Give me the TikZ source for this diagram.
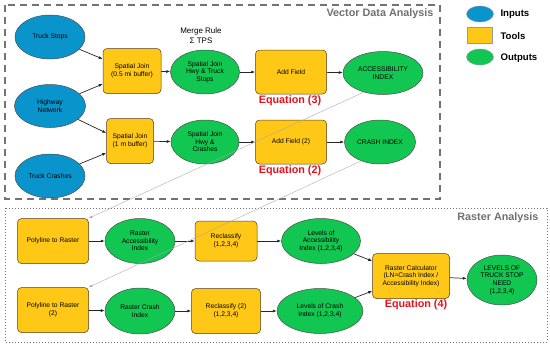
\documentclass[tikz,border=0pt]{standalone}
\usepackage{fontspec}
\setmainfont{Liberation Sans}
\usetikzlibrary{arrows.meta,shapes.geometric}
\definecolor{inblue}{HTML}{0A94CC}
\definecolor{toolyel}{HTML}{FFC816}
\definecolor{outgrn}{HTML}{12C652}
\definecolor{eqred}{HTML}{E8101A}
\definecolor{titlegray}{HTML}{707070}
\tikzset{
  inp/.style={ellipse,draw=black!70,line width=0.5pt,fill=inblue,inner sep=0pt,minimum width=70pt,minimum height=44pt,align=center,font=\fontsize{6.7}{7.6}\selectfont},
  tool/.style={rectangle,rounded corners=4pt,draw=black!55!brown,line width=0.5pt,fill=toolyel,inner sep=1pt,align=center,font=\fontsize{6.7}{7.6}\selectfont},
  outp/.style={ellipse,draw=black!70,line width=0.5pt,fill=outgrn,inner sep=0pt,align=center,font=\fontsize{6.7}{7.6}\selectfont},
  arr/.style={-{Latex[length=4pt,width=3pt]},line width=0.7pt,black!85},
  garr/.style={-{Latex[length=3.5pt,width=2.5pt]},line width=0.35pt,black!35},
  eqlab/.style={font=\bfseries\fontsize{10.8}{12}\selectfont,text=eqred},
  boxtitle/.style={font=\bfseries\fontsize{10.8}{12}\selectfont,text=titlegray,anchor=east},
  legtext/.style={font=\bfseries\fontsize{9.6}{11}\selectfont,anchor=west}
}
\begin{document}
\begin{tikzpicture}[x=1pt,y=-1pt]
\useasboundingbox (0,0) rectangle (550,346);
% group boxes
\draw[dash pattern=on 7pt off 5pt,line width=1.1pt,black!55] (5,5) rectangle (440,199);
\node[boxtitle] (vtitle) at (437,14) {Vector Data Analysis};
\draw[dotted,line width=1pt,black!55] (5,208) rectangle (547,342);
\node[boxtitle] (rtitle) at (542,218) {Raster Analysis};
% legend
\node[ellipse,draw=black!40,fill=inblue,minimum width=27pt,minimum height=16pt,inner sep=0pt] (lin) at (480,14) {};
\node[legtext] (linT) at (497,14) {Inputs};
\node[rectangle,draw=black!40,fill=toolyel,minimum width=25pt,minimum height=16pt,inner sep=0pt] (ltl) at (480,35) {};
\node[legtext] (ltlT) at (497,36) {Tools};
\node[ellipse,draw=black!40,fill=outgrn,minimum width=27pt,minimum height=16pt,inner sep=0pt] (lout) at (480,57) {};
\node[legtext] (loutT) at (497,58) {Outputs};
% vector nodes
\node[inp] (ts) at (50,37) {Truck Stops};
\node[inp,minimum width=71pt,minimum height=43pt] (hw) at (50,106) {Highway\\Network};
\node[inp] (tc) at (50,176) {Truck Crashes};
\node[tool,minimum width=58pt,minimum height=45pt] (sj1) at (132,71) {Spatial Join\\(0.5 mi buffer)};
\node[outp,minimum width=69pt,minimum height=44pt] (sjht) at (205,72) {Spatial Join\\Hwy \& Truck\\Stops};
\node[font=\fontsize{8}{10}\selectfont,align=center] (merge) at (201,36) {Merge Rule\\Σ TPS};
\node[tool,minimum width=71pt,minimum height=44pt] (af1) at (291,72) {Add Field};
\node[outp,minimum width=80pt,minimum height=43pt] (acc) at (383,73) {ACCESSIBILITY\\INDEX};
\node[eqlab] (eq3) at (290,101) {Equation (3)};
\node[tool,minimum width=47pt,minimum height=45pt] (sj2) at (130,141) {Spatial Join\\(1 m buffer)};
\node[outp,minimum width=68pt,minimum height=44pt] (sjhc) at (205,142) {Spatial Join\\Hwy \&\\Crashes};
\node[tool,minimum width=71pt,minimum height=44pt] (af2) at (291,142) {Add Field (2)};
\node[outp,minimum width=71pt,minimum height=44pt] (ci) at (380,142) {CRASH INDEX};
\node[eqlab] (eq2) at (290,171) {Equation (2)};
% raster nodes
\node[tool,minimum width=71pt,minimum height=45pt] (pr1) at (53,241) {Polyline to Raster};
\node[outp,minimum width=70pt,minimum height=45pt] (rai) at (140,241) {Raster\\Accessibility\\Index};
\node[tool,minimum width=62pt,minimum height=40pt] (rc1) at (226,241) {Reclassify\\(1,2,3,4)};
\node[outp,minimum width=79pt,minimum height=45pt] (lai) at (321,241) {Levels of\\Accessibility\\Index (1,2,3,4)};
\node[tool,minimum width=71pt,minimum height=45pt] (pr2) at (53,310) {Polyline to Raster\\(2)};
\node[outp,minimum width=70pt,minimum height=46pt] (rci) at (140,311) {Raster Crash\\Index};
\node[tool,minimum width=69pt,minimum height=45pt] (rc2) at (226,311) {Reclassify (2)\\(1,2,3,4)};
\node[outp,minimum width=86pt,minimum height=45pt] (lci) at (320,311) {Levels of Crash\\Index (1,2,3,4)};
\node[tool,minimum width=77pt,minimum height=45pt] (calc) at (411,276) {Raster Calculator\\(LN=Crash Index /\\Accessibility Index)};
\node[eqlab] (eq4) at (416,305) {Equation (4)};
\node[outp,minimum width=70pt,minimum height=50pt] (need) at (502,280) {LEVELS OF\\TRUCK STOP\\NEED\\(1,2,3,4)};
% arrows
\draw[arr] (ts) -- ([yshift=12pt]sj1.west);
\draw[arr] (hw) -- ([yshift=-13pt]sj1.west);
\draw[arr] (hw) -- ([yshift=8pt]sj2.west);
\draw[arr] (tc) -- ([yshift=-12pt]sj2.west);
\draw[arr] (sj1) -- (sjht);
\draw[arr] (sjht) -- (af1);
\draw[arr] (af1) -- (acc);
\draw[arr] (sj2) -- (sjhc);
\draw[arr] (sjhc) -- (af2);
\draw[arr] (af2) -- (ci);
\draw[arr] (pr1) -- (rai);
\draw[arr] (rai) -- (rc1);
\draw[arr] (rc1) -- (lai);
\draw[arr] (lai) -- ([yshift=15pt]calc.west);
\draw[arr] (pr2) -- (rci);
\draw[arr] (rci) -- (rc2);
\draw[arr] (rc2) -- (lci);
\draw[arr] (lci) -- ([yshift=-15pt]calc.west);
\draw[arr] (calc) -- (need);
\draw[garr] (acc.-135) -- (pr1.north east);
\draw[garr] (ci.-135) -- (pr2.north east);
\end{tikzpicture}
\end{document}
